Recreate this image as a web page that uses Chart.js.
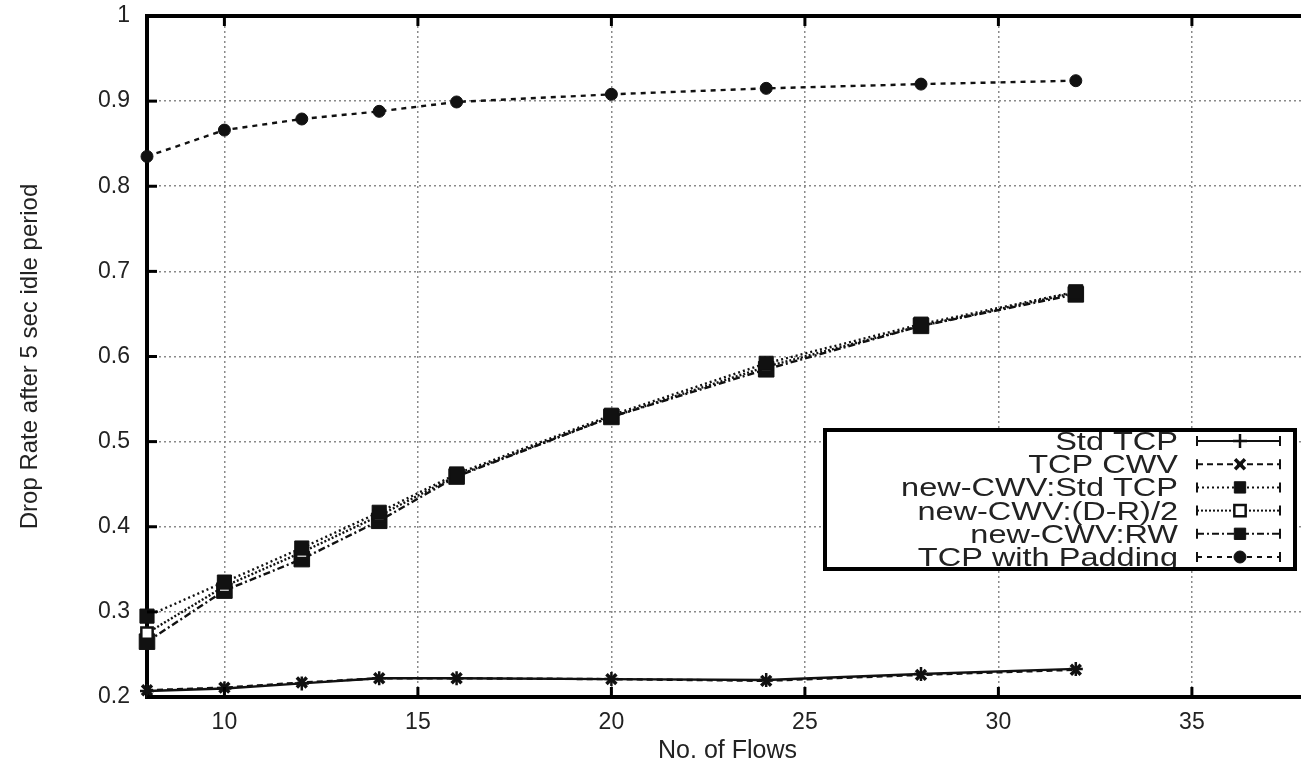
<!DOCTYPE html>
<html>
<head>
<meta charset="utf-8">
<script src="https://cdn.jsdelivr.net/npm/chart.js@4.4.1/dist/chart.umd.min.js"></script>
<style>
  html, body { margin: 0; padding: 0; background: #fff; overflow: hidden; }
  #wrap { position: relative; width: 1320px; height: 766px; }
</style>
</head>
<body>
<div id="wrap"><canvas id="chart"></canvas></div>
<script>
// values
const flows = [8, 10, 12, 14, 16, 20, 24, 28, 32];
const stdTcp      = [0.207, 0.210, 0.216, 0.222, 0.222, 0.221, 0.220, 0.227, 0.233];
const tcpCwv      = [0.208, 0.211, 0.217, 0.222, 0.222, 0.221, 0.219, 0.226, 0.232];
const newCwvStd   = [0.295, 0.335, 0.375, 0.417, 0.462, 0.531, 0.592, 0.638, 0.676];
const newCwvDR2   = [0.275, 0.330, 0.370, 0.413, 0.460, 0.529, 0.588, 0.636, 0.675];
const newCwvRW    = [0.265, 0.325, 0.362, 0.407, 0.459, 0.529, 0.585, 0.636, 0.673];
const tcpPadding  = [0.835, 0.866, 0.879, 0.888, 0.899, 0.908, 0.915, 0.920, 0.924];
const xTicks = [10, 15, 20, 25, 30, 35];
const yTicks = [0.2, 0.3, 0.4, 0.5, 0.6, 0.7, 0.8, 0.9, 1];
const xTitle = 'No. of Flows';
const yTitle = 'Drop Rate after 5 sec idle period';

const pts = vals => flows.map((x, i) => ({ x, y: vals[i] }));
const INK = '#111';
const FONT = "'Liberation Sans', Arial, sans-serif";

const series = [
  { label: 'Std TCP', data: pts(stdTcp), dash: [], style: 'cross', r: 7, fill: INK, bw: 2.5 },
  { label: 'TCP CWV', data: pts(tcpCwv), dash: [6, 4], style: 'crossRot', r: 7, fill: INK, bw: 3.5 },
  { label: 'new-CWV:Std TCP', data: pts(newCwvStd), dash: [2, 3], style: 'rect', r: 10, fill: INK, bw: 1 },
  { label: 'new-CWV:(D-R)/2', data: pts(newCwvDR2), dash: [2, 2], style: 'rect', r: 8, fill: '#fff', bw: 2.5 },
  { label: 'new-CWV:RW', data: pts(newCwvRW), dash: [7, 3, 2, 3], style: 'rect', r: 11, fill: INK, bw: 1 },
  { label: 'TCP with Padding', data: pts(tcpPadding), dash: [5, 5], style: 'circle', r: 6, fill: INK, bw: 1 },
];

const datasets = series.map(s => ({
  label: s.label, data: s.data,
  borderColor: INK, borderWidth: 2.4, borderDash: s.dash,
  pointStyle: s.style, pointRadius: s.r, pointBackgroundColor: s.fill,
  pointBorderColor: INK, pointBorderWidth: s.bw,
  tension: 0, fill: false, clip: false,
}));

// frame, inward ticks and the boxed legend
const framePlugin = {
  id: 'frame',
  afterDraw(chart) {
    const { ctx, chartArea: a, scales } = chart;
    ctx.save();
    ctx.strokeStyle = '#000';
    ctx.lineWidth = 4;
    ctx.beginPath(); ctx.moveTo(a.left - 2, a.top); ctx.lineTo(a.right, a.top); ctx.stroke();
    ctx.lineWidth = 3;
    for (const t of scales.y.ticks) {
      const y = scales.y.getPixelForValue(t.value);
      ctx.beginPath(); ctx.moveTo(a.left, y); ctx.lineTo(a.left + 10, y); ctx.stroke();
    }
    for (const t of scales.x.ticks) {
      const x = scales.x.getPixelForValue(t.value);
      ctx.beginPath(); ctx.moveTo(x, a.bottom); ctx.lineTo(x, a.bottom - 10); ctx.stroke();
      ctx.beginPath(); ctx.moveTo(x, a.top); ctx.lineTo(x, a.top + 10); ctx.stroke();
    }

    // legend box
    const bx = 825, by = 430, bw = 470, bh = 139, rowH = 23.2;
    ctx.fillStyle = '#fff';
    ctx.fillRect(bx, by, bw, bh);
    chart.data.datasets.forEach((ds, i) => {
      const cy = 441 + i * rowH;
      ctx.save();
      ctx.translate(1178, cy + 9);
      ctx.scale(1.3, 1);
      ctx.fillStyle = '#222';
      ctx.font = `25px ${FONT}`;
      ctx.textAlign = 'right';
      ctx.textBaseline = 'alphabetic';
      ctx.fillText(ds.label, 0, 0);
      ctx.restore();

      ctx.strokeStyle = INK;
      ctx.lineWidth = 2;
      ctx.setLineDash(ds.borderDash);
      ctx.beginPath(); ctx.moveTo(1197, cy); ctx.lineTo(1280, cy); ctx.stroke();
      ctx.setLineDash([]);
      ctx.beginPath();
      ctx.moveTo(1197, cy - 5); ctx.lineTo(1197, cy + 5);
      ctx.moveTo(1280, cy - 5); ctx.lineTo(1280, cy + 5);
      ctx.stroke();
      ctx.fillStyle = ds.pointBackgroundColor;
      ctx.lineWidth = ds.pointBorderWidth;
      Chart.helpers.drawPoint(ctx, {
        pointStyle: ds.pointStyle, radius: Math.min(ds.pointRadius, 8),
        borderWidth: ds.pointBorderWidth, rotation: 0,
      }, 1240, cy);
    });
    ctx.lineWidth = 4;
    ctx.strokeStyle = '#000';
    ctx.strokeRect(bx, by, bw, bh);
    ctx.restore();
  },
};

new Chart(document.getElementById('chart'), {
  type: 'line',
  data: { datasets },
  plugins: [framePlugin],
  options: {
    responsive: true,
    maintainAspectRatio: false,
    animation: false,
    layout: { padding: { top: 16, right: 6, left: 0, bottom: 0 } },
    plugins: { legend: { display: false }, tooltip: { enabled: false } },
    scales: {
      x: {
        type: 'linear', min: 8, max: 38,
        ticks: { color: '#222', padding: 12, font: { size: 23, family: FONT } },
        afterBuildTicks: s => { s.ticks = xTicks.map(v => ({ value: v })); },
        afterFit: s => { s.height = 69; s.paddingLeft = 0; s.paddingRight = 0; },
        grid: { color: '#8a8a8a', lineWidth: 1.5, drawTicks: false },
        border: { color: '#000', width: 4, dash: [2, 3] },
        title: { display: true, text: xTitle, color: '#222', padding: { top: 2, bottom: 0 }, font: { size: 25, family: FONT } },
      },
      y: {
        min: 0.2, max: 1,
        ticks: { color: '#222', padding: 17, font: { size: 23, family: FONT },
          callback: v => String(+v.toFixed(1)) },
        afterBuildTicks: s => { s.ticks = yTicks.map(v => ({ value: v })); },
        afterFit: s => { s.width = 147; s.paddingTop = 0; s.paddingBottom = 0; },
        grid: { color: '#8a8a8a', lineWidth: 1.5, drawTicks: false },
        border: { color: '#000', width: 4, dash: [2, 3] },
        title: { display: true, text: yTitle, color: '#222', padding: { top: 16, bottom: 0 }, font: { size: 24, family: FONT } },
      },
    },
  },
});
</script>
</body>
</html>
